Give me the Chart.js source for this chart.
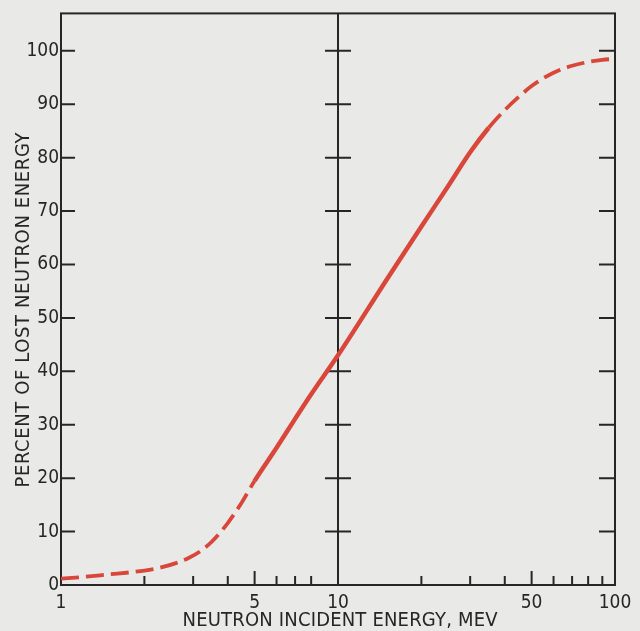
<!DOCTYPE html>
<html>
<head>
<meta charset="utf-8">
<script src="https://cdn.jsdelivr.net/npm/chart.js@4"></script>
<style>
html, body { margin: 0; padding: 0; background: #e9eae8; }
</style>
</head>
<body>
<canvas id="lossChart" width="640" height="631"></canvas>
<script>
// curve (energy in MeV, percent of energy lost)
const energy = [1, 1.2, 1.5, 1.8, 2, 2.3, 2.6, 2.9, 3.2, 3.5, 4, 4.5, 5, 6, 7, 8, 10, 15, 20, 25, 30, 35, 40, 45, 50, 60, 70, 80, 90, 100];
const percentLost = [1.2, 1.5, 2.0, 2.4, 2.7, 3.3, 4.1, 5.1, 6.4, 8.1, 11.6, 15.5, 19.5, 25.7, 31.1, 35.7, 43.0, 57.2, 67.1, 74.7, 81, 85.6, 88.9, 91.4, 93.4, 95.9, 97.2, 97.9, 98.3, 98.5];

const xLabelValues = [1, 5, 10, 50, 100];
const xMinorTicks = [2, 3, 4, 6, 7, 8, 20, 30, 40, 60, 70, 80, 90];
const xMajorTicks = [5, 50];
const yTickValues = [0, 10, 20, 30, 40, 50, 60, 70, 80, 90, 100];

const xTitle = 'NEUTRON INCIDENT ENERGY, MEV';
const yTitle = 'PERCENT OF LOST NEUTRON ENERGY';

const INK = '#262626';
const RED = '#d9463a';
const FONT = "'DejaVu Sans Condensed', 'Liberation Sans Narrow', 'DejaVu Sans', sans-serif";

// draw text stretched (letter spacing) to a given width
function spacedText(ctx, text, cx, cy, width) {
    ctx.letterSpacing = '0px';
    const w = ctx.measureText(text).width;
    const sp = (width - w) / (text.length - 1);
    ctx.letterSpacing = sp + 'px';
    ctx.textAlign = 'left';
    ctx.textBaseline = 'middle';
    ctx.fillText(text, cx - width / 2, cy);
    ctx.letterSpacing = '0px';
}

// frame, the line at 10 MeV, inward tick marks and the axis titles
const frameTicks = {
    id: 'frameTicks',
    beforeDatasetsDraw(chart) {
        const ctx = chart.ctx;
        const a = chart.chartArea;
        const x = chart.scales.x;
        const y = chart.scales.y;
        ctx.save();
        ctx.strokeStyle = INK;
        ctx.lineWidth = 2;
        ctx.strokeRect(a.left, a.top, a.right - a.left, a.bottom - a.top);
        const xm = x.getPixelForValue(10);
        ctx.beginPath();
        ctx.moveTo(xm, a.top);
        ctx.lineTo(xm, a.bottom);
        for (const v of yTickValues) {
            if (v == 0) continue;
            const py = y.getPixelForValue(v);
            ctx.moveTo(a.left, py);
            ctx.lineTo(a.left + 14, py);
            ctx.moveTo(xm - 13, py);
            ctx.lineTo(xm + 13, py);
            ctx.moveTo(a.right - 16, py);
            ctx.lineTo(a.right, py);
        }
        for (const v of xMinorTicks) {
            const px = x.getPixelForValue(v);
            ctx.moveTo(px, a.bottom);
            ctx.lineTo(px, a.bottom - 9);
        }
        for (const v of xMajorTicks) {
            const px = x.getPixelForValue(v);
            ctx.moveTo(px, a.bottom);
            ctx.lineTo(px, a.bottom - 14);
        }
        ctx.stroke();

        ctx.fillStyle = INK;
        ctx.font = '20px ' + FONT;
        spacedText(ctx, xTitle, 340, 621, 315);
        ctx.translate(24, 310);
        ctx.rotate(-Math.PI / 2);
        spacedText(ctx, yTitle, 0, 0, 355);
        ctx.restore();
    }
};

const dashed = (lo, hi) => ctx => {
    const e = ctx.p0.parsed.x;
    if (e < lo || e >= hi) return [18, 7];
    return undefined;
};
const thinner = (lo, hi) => ctx => {
    const e = ctx.p0.parsed.x;
    if (e < lo || e >= hi) return 3.8;
    return undefined;
};

new Chart(document.getElementById('lossChart'), {
    type: 'line',
    data: {
        datasets: [{
            data: energy.map((e, i) => ({x: e, y: percentLost[i]})),
            borderColor: RED,
            borderWidth: 4.5,
            pointRadius: 0,
            cubicInterpolationMode: 'monotone',
            segment: {
                borderDash: dashed(4.8, 35),
                borderWidth: thinner(4.8, 35)
            }
        }]
    },
    options: {
        responsive: false,
        animation: false,
        layout: { padding: { left: 8, top: 11, right: 25, bottom: 4 } },
        plugins: { legend: { display: false }, tooltip: { enabled: false } },
        scales: {
            x: {
                type: 'logarithmic',
                min: 1,
                max: 100,
                afterBuildTicks: s => { s.ticks = xLabelValues.map(v => ({value: v})); },
                afterFit: s => { s.height = 631 - 585 - 4; },
                grid: { display: false, drawTicks: false },
                border: { display: false },
                ticks: {
                    autoSkip: false,
                    maxRotation: 0,
                    padding: 7,
                    color: INK,
                    font: { family: FONT, size: 19 },
                    callback: v => String(v)
                }
            },
            y: {
                min: 0,
                max: 107,
                afterBuildTicks: s => { s.ticks = yTickValues.map(v => ({value: v})); },
                afterFit: s => { s.width = 61 - 8; },
                grid: { display: false, drawTicks: false },
                border: { display: false },
                ticks: {
                    padding: 2,
                    color: INK,
                    font: { family: FONT, size: 19 }
                }
            }
        }
    },
    plugins: [frameTicks]
});
</script>
</body>
</html>
